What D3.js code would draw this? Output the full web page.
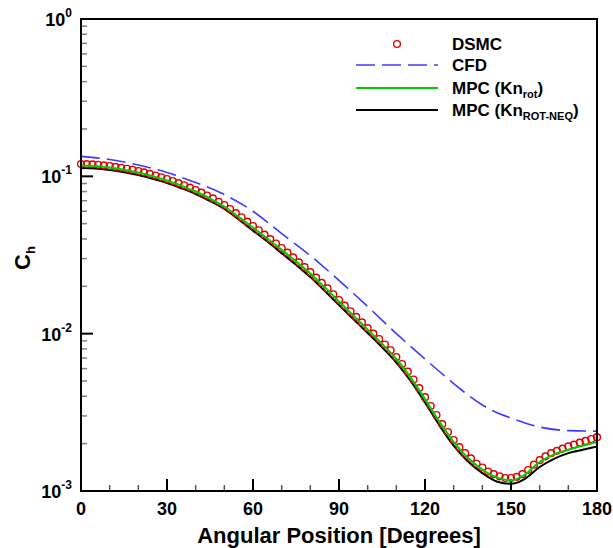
<!DOCTYPE html>
<html>
<head>
<meta charset="utf-8">
<script src="https://cdn.jsdelivr.net/npm/d3@7"></script>
<style>
  body { margin: 0; background: #fff; }
  text { font-family: Arial, "Liberation Sans", sans-serif; font-weight: bold; }
</style>
</head>
<body>
<div id="chart"></div>
<script>
// DSMC, every 2 degrees
var dsmcDeg = d3.range(0, 181, 2);
var dsmcCh = [
  0.1197, 0.1196, 0.1192, 0.1185, 0.1174, 0.1163, 0.1149, 0.1134, 0.1117, 0.1100,
  0.1081, 0.1059, 0.1036, 0.1012, 0.0987, 0.0961, 0.0933, 0.0905, 0.0877, 0.0848,
  0.0818, 0.0787, 0.0755, 0.0724, 0.0689, 0.0657, 0.0620, 0.0583, 0.0549, 0.0515,
  0.0483, 0.0454, 0.0426, 0.0399, 0.0374, 0.0350, 0.0327, 0.0305, 0.0284, 0.0265,
  0.0246, 0.0227, 0.0210, 0.0194, 0.0178, 0.01635, 0.01507, 0.01388, 0.01279, 0.01178,
  0.01085, 0.01001, 0.00924, 0.00853, 0.00784, 0.00710, 0.00641, 0.00574, 0.00511, 0.00451,
  0.00395, 0.00347, 0.00304, 0.00266, 0.00237, 0.00211, 0.00190, 0.00174, 0.00161, 0.00149,
  0.00141, 0.00133, 0.00128, 0.00124, 0.00121, 0.00121, 0.00123, 0.00128, 0.00136, 0.00147,
  0.00157, 0.00166, 0.00174, 0.00180, 0.00186, 0.00192, 0.00197, 0.00203, 0.00208, 0.00214,
  0.00220
];

// CFD
var cfdDeg = [0, 10, 20, 30, 40, 50, 60, 70, 80, 90, 100, 110, 120, 130, 135, 140, 145, 150, 160, 170, 180];
var cfdCh = [0.1340, 0.1279, 0.1180, 0.1057, 0.0913, 0.0766, 0.0600, 0.0433, 0.0313, 0.0218,
  0.01487, 0.01001, 0.00690, 0.00482, 0.00407, 0.00352, 0.00315, 0.00291, 0.00255, 0.00242, 0.00240];

// MPC lines, every 5 degrees
var mpcDeg = d3.range(0, 181, 5);
var mpcRotCh = [
  0.1171, 0.1163, 0.1137, 0.1101, 0.1057, 0.1001, 0.0940, 0.0871, 0.0801, 0.0723,
  0.0643, 0.0553, 0.0473, 0.0403, 0.0342, 0.0288, 0.0241, 0.0197, 0.0160, 0.01303,
  0.01062, 0.00863, 0.00690, 0.00526, 0.00384, 0.00276, 0.00205, 0.00162, 0.00137, 0.00122,
  0.00117, 0.00128, 0.00153, 0.00171, 0.00183, 0.00194, 0.00205
];
var mpcNeqCh = [
  0.1129, 0.1121, 0.1096, 0.1062, 0.1019, 0.0965, 0.0907, 0.0840, 0.0772, 0.0697,
  0.0620, 0.0532, 0.0452, 0.0385, 0.0325, 0.0274, 0.0229, 0.0187, 0.01520, 0.01238,
  0.01009, 0.00820, 0.00655, 0.00500, 0.00365, 0.00262, 0.00194, 0.00154, 0.00130, 0.00115,
  0.00111, 0.00120, 0.00142, 0.00160, 0.00174, 0.00183, 0.00192
];

var xTicks = [0, 30, 60, 90, 120, 150, 180];
var yDecades = [0, -1, -2, -3];

var width = 613, height = 548;
var plotL = 81, plotR = 597, plotT = 19, plotB = 491;

var svg = d3.select("#chart").append("svg")
  .attr("width", width)
  .attr("height", height);

var x = d3.scaleLinear().domain([0, 180]).range([plotL, plotR]);
var y = d3.scaleLog().domain([1e-3, 1]).range([plotB, plotT]);

// Minor y ticks
var minorY = [];
[1e-3, 1e-2, 1e-1].forEach(function(b) {
  d3.range(2, 10).forEach(function(m) { minorY.push(b * m); });
});
svg.append("g").selectAll("line")
  .data(minorY)
  .enter().append("line")
  .attr("x1", plotL).attr("x2", plotL + 6)
  .attr("y1", d => y(d)).attr("y2", d => y(d))
  .attr("stroke", "#808080")
  .attr("stroke-width", 1.5);

// Major y ticks
svg.append("g").selectAll("line")
  .data(yDecades)
  .enter().append("line")
  .attr("x1", plotL).attr("x2", plotL + 12)
  .attr("y1", d => y(Math.pow(10, d))).attr("y2", d => y(Math.pow(10, d)))
  .attr("stroke", "#000")
  .attr("stroke-width", 2);

// x ticks
var minorX = d3.range(0, 181, 10).filter(d => d % 30 != 0);
svg.append("g").selectAll("line")
  .data(minorX)
  .enter().append("line")
  .attr("x1", d => x(d)).attr("x2", d => x(d))
  .attr("y1", plotB).attr("y2", plotB - 6)
  .attr("stroke", "#555")
  .attr("stroke-width", 1.5);
svg.append("g").selectAll("line")
  .data(xTicks)
  .enter().append("line")
  .attr("x1", d => x(d)).attr("x2", d => x(d))
  .attr("y1", plotB).attr("y2", plotB - 12)
  .attr("stroke", "#000")
  .attr("stroke-width", 2);

// Data lines
var line = d3.line()
  .x(d => x(d[0]))
  .y(d => y(d[1]))
  .curve(d3.curveMonotoneX);

svg.append("path")
  .datum(d3.zip(cfdDeg, cfdCh))
  .attr("d", line)
  .attr("fill", "none")
  .attr("stroke", "#3c3cff")
  .attr("stroke-width", 1.6)
  .attr("stroke-dasharray", "19,7");

svg.append("path")
  .datum(d3.zip(mpcDeg, mpcNeqCh))
  .attr("d", line)
  .attr("fill", "none")
  .attr("stroke", "#000")
  .attr("stroke-width", 2);

svg.append("g").selectAll("circle")
  .data(d3.zip(dsmcDeg, dsmcCh))
  .enter().append("circle")
  .attr("cx", d => x(d[0]))
  .attr("cy", d => y(d[1]))
  .attr("r", 3.4)
  .attr("fill", "none")
  .attr("stroke", "#e00000")
  .attr("stroke-width", 1.4);

svg.append("path")
  .datum(d3.zip(mpcDeg, mpcRotCh))
  .attr("d", line)
  .attr("fill", "none")
  .attr("stroke", "#00cc00")
  .attr("stroke-width", 2);

// Frame
svg.append("rect")
  .attr("x", plotL).attr("y", plotT)
  .attr("width", plotR - plotL).attr("height", plotB - plotT)
  .attr("fill", "none")
  .attr("stroke", "#000")
  .attr("stroke-width", 2);

// y tick labels
var yl = svg.append("g").selectAll("text")
  .data(yDecades)
  .enter().append("text")
  .attr("x", 72)
  .attr("y", d => y(Math.pow(10, d)) + 7)
  .attr("text-anchor", "end")
  .attr("font-size", 18);
yl.append("tspan").text("10");
yl.append("tspan").attr("dy", -9).attr("font-size", 12).text(d => d == 0 ? "0" : "-" + (-d));

// x tick labels
svg.append("g").selectAll("text")
  .data(xTicks)
  .enter().append("text")
  .attr("x", d => x(d))
  .attr("y", 515)
  .attr("text-anchor", "middle")
  .attr("font-size", 18)
  .text(d => d);

svg.append("text")
  .attr("x", (plotL + plotR) / 2)
  .attr("y", 543)
  .attr("text-anchor", "middle")
  .attr("font-size", 22)
  .text("Angular Position [Degrees]");

var ylab = svg.append("text")
  .attr("transform", "translate(30,258) rotate(-90)")
  .attr("text-anchor", "middle")
  .attr("font-size", 22);
ylab.append("tspan").text("C");
ylab.append("tspan").attr("dy", 5).attr("font-size", 13).text("h");

// Legend
var legend = svg.append("g");
var lx1 = 356, lx2 = 438, tx = 452;

legend.append("circle")
  .attr("cx", 397).attr("cy", 44).attr("r", 3.4)
  .attr("fill", "none").attr("stroke", "#e00000").attr("stroke-width", 1.4);
legend.append("text").attr("x", tx).attr("y", 50).attr("font-size", 17).text("DSMC");

legend.append("line")
  .attr("x1", lx1).attr("x2", lx2).attr("y1", 65).attr("y2", 65)
  .attr("stroke", "#3c3cff").attr("stroke-width", 1.6).attr("stroke-dasharray", "19,7");
legend.append("text").attr("x", tx).attr("y", 71).attr("font-size", 17).text("CFD");

legend.append("line")
  .attr("x1", lx1).attr("x2", lx2).attr("y1", 88).attr("y2", 88)
  .attr("stroke", "#00cc00").attr("stroke-width", 2);
var t3 = legend.append("text").attr("x", tx).attr("y", 94).attr("font-size", 17);
t3.append("tspan").text("MPC (Kn");
t3.append("tspan").attr("dy", 4).attr("font-size", 11).text("rot");
t3.append("tspan").attr("dy", -4).text(")");

legend.append("line")
  .attr("x1", lx1).attr("x2", lx2).attr("y1", 110).attr("y2", 110)
  .attr("stroke", "#000").attr("stroke-width", 2);
var t4 = legend.append("text").attr("x", tx).attr("y", 116).attr("font-size", 17);
t4.append("tspan").text("MPC (Kn");
t4.append("tspan").attr("dy", 4).attr("font-size", 11).text("ROT-NEQ");
t4.append("tspan").attr("dy", -4).text(")");
</script>
</body>
</html>
